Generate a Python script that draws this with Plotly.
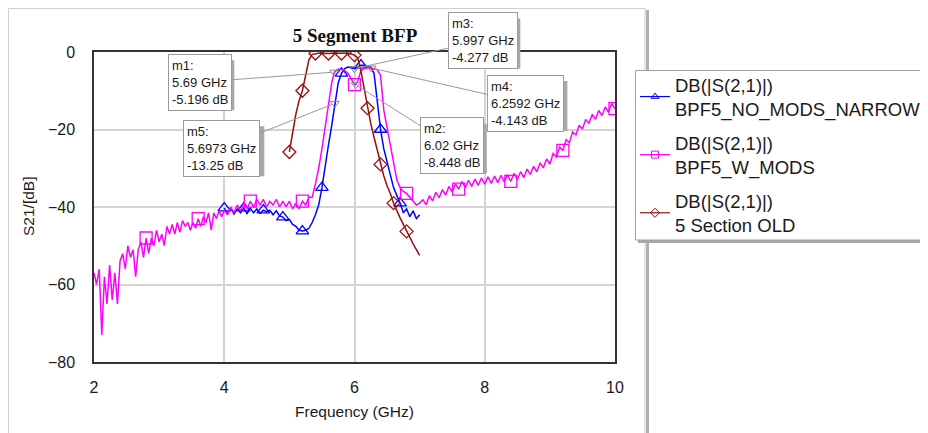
import plotly.graph_objects as go

# ---------------- data ----------------
# BPF5_W_MODS (magenta)
wmods_f = [2.00, 2.04, 2.08, 2.12, 2.16, 2.20, 2.24, 2.28, 2.32, 2.36,
           2.40, 2.44, 2.48, 2.52, 2.56, 2.60, 2.64, 2.68, 2.72, 2.76,
           2.80, 2.84, 2.88, 2.92, 2.96, 3.00, 3.04, 3.08, 3.12, 3.16,
           3.20, 3.24, 3.28, 3.32, 3.36, 3.40, 3.44, 3.48, 3.52, 3.56,
           3.60, 3.64, 3.68, 3.72, 3.76, 3.80, 3.84, 3.88, 3.92, 3.96,
           4.00, 4.05, 4.10, 4.15, 4.20, 4.25, 4.30, 4.35, 4.40, 4.45,
           4.50, 4.55, 4.60, 4.65, 4.70, 4.75, 4.80, 4.85, 4.90, 4.95,
           5.00, 5.05, 5.10, 5.15, 5.20, 5.25, 5.30,
           5.35, 5.40, 5.45, 5.50, 5.55, 5.60, 5.65, 5.69, 5.75, 5.80,
           5.85, 5.90, 5.95, 6.00, 6.02, 6.05, 6.10, 6.15, 6.20, 6.26,
           6.30, 6.35, 6.40, 6.45, 6.50, 6.55, 6.60, 6.65, 6.70, 6.75,
           6.80, 6.85, 6.90, 6.95, 7.00,
           7.05, 7.10, 7.15, 7.20, 7.25, 7.30, 7.35, 7.40, 7.45, 7.50,
           7.55, 7.60, 7.65, 7.70, 7.75, 7.80, 7.85, 7.90, 7.95, 8.00,
           8.05, 8.10, 8.15, 8.20, 8.25, 8.30, 8.35, 8.40, 8.45, 8.50,
           8.55, 8.60, 8.65, 8.70, 8.75, 8.80, 8.85, 8.90, 8.95, 9.00,
           9.05, 9.10, 9.15, 9.20, 9.25, 9.30, 9.35, 9.40, 9.45, 9.50,
           9.55, 9.60, 9.65, 9.70, 9.75, 9.80, 9.85, 9.90, 9.95, 10.00]
wmods_db = [-57, -60, -56, -73, -58, -65, -55, -64, -57, -65,
            -54, -52, -56, -50, -53, -51, -58, -51, -49, -53,
            -48, -52, -48, -50, -46, -49, -47, -50, -45, -47,
            -44.5, -47, -44, -46.5, -43.5, -45, -44, -46, -44, -45.5,
            -43, -45, -42.5, -44, -41.5, -46, -41.5, -43, -41, -42.5,
            -40.8, -42, -40, -41.5, -39.5, -41, -39, -40.5, -38.5, -40,
            -38, -39.5, -38, -40, -38.5, -39.5, -38, -40, -38.5, -40,
            -38.5, -40.5, -39, -40.5, -38.5, -39.5, -37.5,
            -37.5, -34, -30, -25, -19, -14, -8, -5.196, -4.4, -4.5,
            -4.8, -5.5, -7, -8.4, -8.448, -7.5, -4.8, -4.3, -4.1, -4.143,
            -4.3, -4.6, -6, -15, -19.5, -24, -29.5, -33, -35, -36,
            -36.5, -37.5, -38.5, -39.5, -39,
            -38.1, -39.4, -37.1, -38.4, -36.2, -37.6, -35.5, -36.9, -34.7, -36.1,
            -34.0, -35.4, -33.4, -35.0, -33.1, -34.7, -32.8, -34.4, -32.5, -34.1,
            -32.2, -33.9, -32.0, -33.7, -31.8, -33.5, -31.7, -33.4, -31.3, -32.9,
            -30.9, -32.4, -30.2, -31.6, -29.5, -30.9, -28.6, -29.9, -27.6, -28.9,
            -26.2, -27.1, -24.5, -25.4, -22.6, -23.4, -20.6, -21.4, -18.9, -19.9,
            -17.4, -18.4, -16.1, -17.4, -15.1, -16.4, -14.2, -15.5, -13.3, -14.6]
wmods_marks = [2.8, 3.6, 4.4, 5.2, 6.0, 6.8, 7.6, 8.4, 9.2, 10.0]

# BPF5_NO_MODS_NARROW (blue)
narrow_f = [4.00, 4.05, 4.10, 4.15, 4.20, 4.25, 4.30, 4.35, 4.40, 4.45,
            4.50, 4.55, 4.60, 4.65, 4.70, 4.75, 4.80, 4.85, 4.90, 4.95,
            5.00, 5.05, 5.10, 5.15, 5.20, 5.25, 5.30, 5.35, 5.40, 5.45,
            5.50, 5.55, 5.60, 5.65, 5.70, 5.75, 5.80, 5.85, 5.90, 5.95,
            6.00, 6.05, 6.10, 6.15, 6.20, 6.25, 6.30, 6.35, 6.40, 6.45,
            6.50, 6.55, 6.60, 6.65, 6.70, 6.75, 6.80, 6.85, 6.90, 6.95, 7.00]
narrow_db = [-40.3, -41.8, -40.2, -41.8, -40.5, -41.5, -40.3, -41.7, -40.3, -41.5,
             -40.5, -41.6, -40.8, -41.2, -40.8, -42, -41, -42.3, -42.6, -43.5,
             -43.2, -44.5, -45, -46, -46.2, -46, -45.5, -44, -42, -39.5,
             -35, -29, -24, -19, -13.3, -8, -5.5, -4.3, -3.9, -4.1,
             -4.28, -3.8, -3.4, -3.4, -3.6, -3.9, -5.5, -12, -20, -25,
             -28.5, -32, -35, -37, -39, -41.5, -40.5, -42.5, -41, -43, -42]
narrow_marks = [4.0, 4.3, 4.6, 4.9, 5.2, 5.5, 5.8, 6.1, 6.4, 6.7]

# 5 Section OLD (dark red)
old_f = [5.00, 5.05, 5.10, 5.15, 5.20, 5.25, 5.30, 5.35, 5.40, 5.45,
         5.50, 5.55, 5.60, 5.65, 5.70, 5.75, 5.80, 5.85, 5.90, 5.95,
         6.00, 6.05, 6.10, 6.15, 6.20, 6.25, 6.30, 6.35, 6.40, 6.45,
         6.50, 6.55, 6.60, 6.65, 6.70, 6.75, 6.80, 6.85, 6.90, 6.95, 7.00]
old_db = [-25.8, -21, -16, -12.5, -10, -6, -2, -0.6, -0.4, -0.3,
          -0.3, -0.4, -0.4, -0.3, -0.3, -0.4, -0.4, -0.3, -0.3, -0.5,
          -0.8, -1.5, -5, -9.5, -14.5, -18.5, -22, -25.5, -29, -32,
          -34.5, -36.5, -39, -41, -42.8, -44.5, -46.3, -48, -49.5, -51, -52.5]
old_marks = [5.0, 5.2, 5.4, 5.6, 5.8, 6.0, 6.2, 6.4, 6.6, 6.8]

# markers m1..m5
mk_names = ["m1", "m2", "m3", "m4", "m5"]
mk_f = [5.69, 6.02, 5.997, 6.2592, 5.6973]
mk_db = [-5.196, -8.448, -4.277, -4.143, -13.25]
# label box offsets (px) from the marker point, and rough box widths for the shadows
mk_ax = [-134, 96, 129, 154, -113]
mk_ay = [10, 61, -28, 35, 45]
mk_w = [62, 64, 68, 78, 79]

FONT = "Liberation Sans, Arial, sans-serif"

# plot area in page pixels (the page adds an 8 px body margin)
PX0, PX1, PY0, PY1 = 94, 615, 52, 362
W, H = 928, 425


def px2paper(px, py):
    return (px - PX0) / (PX1 - PX0), (PY1 - py) / (PY1 - PY0)


def pick(fs, dbs, marks):
    xs, ys = [], []
    for f, d in zip(fs, dbs):
        if any(abs(f - m) < 1e-6 for m in marks):
            xs.append(f)
            ys.append(d)
    return xs, ys


series = [
    ("DB(|S(2,1)|)<br>BPF5_NO_MODS_NARROW", narrow_f, narrow_db, narrow_marks,
     "#0000ff", "triangle-up-open", 11),
    ("DB(|S(2,1)|)<br>BPF5_W_MODS", wmods_f, wmods_db, wmods_marks,
     "#ff00ff", "square-open", 12),
    ("DB(|S(2,1)|)<br>5 Section OLD", old_f, old_db, old_marks,
     "#990f0f", "diamond-open", 10),
]

fig = go.Figure()
for i, (name, fs, dbs, marks, col, sym, sz) in enumerate(series):
    fig.add_trace(go.Scatter(x=fs, y=dbs, mode="lines", showlegend=False,
                             line=dict(color=col, width=1.5)))
    mx, my = pick(fs, dbs, marks)
    fig.add_trace(go.Scatter(x=mx, y=my, mode="markers", showlegend=False,
                             marker=dict(symbol=sym, size=sz, color=col,
                                         line=dict(width=1.3, color=col))))
    # legend entry
    fig.add_trace(go.Scatter(x=[None], y=[None], mode="lines+markers", name=name,
                             legendgroup="g%d" % i,
                             line=dict(color=col, width=1.2),
                             marker=dict(symbol=sym, size=7, color=col,
                                         line=dict(width=1, color=col))))

# marker glyphs
fig.add_trace(go.Scatter(x=mk_f, y=mk_db, mode="markers", showlegend=False,
                         marker=dict(symbol="triangle-down-open", size=8,
                                     color="#8a8a8a", line=dict(width=1))))

for nm, f, d, ax, ay, w in zip(mk_names, mk_f, mk_db, mk_ax, mk_ay, mk_w):
    txt = "%s:<br>%s GHz<br>%s dB" % (nm, f, d)
    fig.add_annotation(x=f, y=d, xref="x", yref="y", text=txt, showarrow=True,
                       ax=ax, ay=ay, align="left", borderpad=3, borderwidth=1,
                       bgcolor="white", bordercolor="#9a9a9a",
                       arrowhead=0, arrowwidth=1, arrowcolor="#9a9a9a", standoff=3,
                       font=dict(family=FONT, size=13, color="#1a1a1a"))
    # drop shadow behind the box
    cx = PX0 + (f - 2) * (PX1 - PX0) / 8 + ax
    cy = PY0 - d * (PY1 - PY0) / 80 + ay
    sx0, sy0 = px2paper(cx - w / 2 + 3, cy + 25 + 3)
    sx1, sy1 = px2paper(cx + w / 2 + 3, cy - 25 + 3)
    fig.add_shape(type="rect", xref="paper", yref="paper", layer="above",
                  x0=sx0, x1=sx1, y0=sy0, y1=sy1,
                  line=dict(width=0), fillcolor="#a8a8a8")

# y axis title as an annotation (axis title standoff is ignored without automargin)
fig.add_annotation(text="S21/[dB]", xref="paper", yref="paper",
                   x=px2paper(28, 0)[0], y=0.5, showarrow=False, textangle=-90,
                   xanchor="center", yanchor="middle",
                   font=dict(family=FONT, size=15.5, color="#1a1a1a"))

# outer graph frame + its shadow
fx0, fy0 = px2paper(8.5, 440)
fx1, fy1 = px2paper(645, 8.5)
fig.add_shape(type="rect", xref="paper", yref="paper", layer="below",
              x0=px2paper(646, 0)[0], x1=px2paper(649, 0)[0],
              y0=fy0, y1=px2paper(0, 10)[1],
              line=dict(width=0), fillcolor="#b0b0b0")
fig.add_shape(type="rect", xref="paper", yref="paper", layer="below",
              x0=fx0, x1=fx1, y0=fy0, y1=fy1,
              line=dict(width=1, color="#cfcfcf"), fillcolor="rgba(0,0,0,0)")
# legend box (runs off the right edge) and its shadow; the legend itself is transparent
sx0, sy0 = px2paper(638, 243)
sx1, sy1 = px2paper(945, 73)
fig.add_shape(type="rect", xref="paper", yref="paper", layer="above",
              x0=sx0, x1=sx1, y0=sy0, y1=sy1,
              line=dict(width=0), fillcolor="#a8a8a8")
bx0, by0 = px2paper(635.5, 240)
bx1, by1 = px2paper(945, 70.5)
fig.add_shape(type="rect", xref="paper", yref="paper", layer="above",
              x0=bx0, x1=bx1, y0=by0, y1=by1,
              line=dict(width=1, color="#a0a0a0"), fillcolor="white")

fig.update_layout(
    width=W, height=H,
    margin=dict(l=PX0 - 8, r=W - (PX1 - 8), t=PY0 - 8, b=H - (PY1 - 8)),
    paper_bgcolor="white", plot_bgcolor="white",
    font=dict(family=FONT, color="#1a1a1a"),
    title=dict(text="<b>5 Segment BFP</b>", x=(355 - 8) / W,
               xanchor="center", y=1 - (35 - 8) / H, yanchor="middle",
               font=dict(family="Liberation Serif, Times New Roman, serif",
                         size=19, color="#111")),
    # legend placed in container units so it may run off the right edge
    legend=dict(xref="container", yref="container",
                x=(635 - 8) / W, y=1 - (66 - 8) / H, xanchor="left", yanchor="top",
                bgcolor="rgba(0,0,0,0)", borderwidth=0,
                font=dict(family=FONT, size=18.5, color="#1a1a1a"),
                traceorder="grouped", tracegroupgap=7),
)
fig.update_xaxes(range=[2, 10], dtick=2, showgrid=True, gridcolor="#d4d4d4", gridwidth=1.5,
                 showline=True, mirror=True, linecolor="#333", linewidth=1.5,
                 zeroline=False, ticks="", ticklabelstandoff=10,
                 tickfont=dict(size=16),
                 title=dict(text="Frequency (GHz)", font=dict(size=15.5), standoff=11))
fig.update_yaxes(range=[-80, 0], dtick=20, showgrid=True, gridcolor="#d4d4d4", gridwidth=1.5,
                 showline=True, mirror=True, linecolor="#333", linewidth=1.5,
                 zeroline=False, ticks="", ticklabelstandoff=14,
                 tickfont=dict(size=16))

fig.write_html("out.html")
